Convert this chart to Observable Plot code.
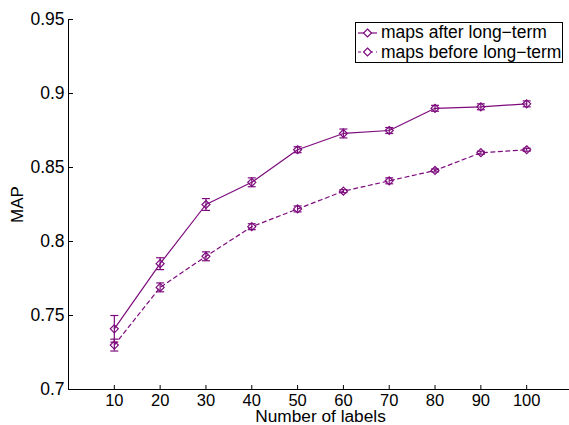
<!DOCTYPE html>
<html>
<head>
<meta charset="utf-8">
<script src="https://cdn.jsdelivr.net/npm/d3@7"></script>
<script src="https://cdn.jsdelivr.net/npm/@observablehq/plot@0.6"></script>
<style>
  html, body { margin: 0; padding: 0; background: #fff; overflow: hidden; }
  #wrap { position: relative; width: 569px; height: 425px; font-family: "Liberation Sans", Arial, sans-serif; }
  #legend { position: absolute; left: 355px; top: 22px; width: 206px; height: 39px; border: 1px solid #000; background: #fff; font-size: 17.5px; color: #000; white-space: nowrap; overflow: hidden; }
  .row { display: flex; align-items: center; height: 19.5px; line-height: 19px; white-space: nowrap; }
  .row svg { margin-left: 1px; margin-right: 3px; flex: none; }
</style>
</head>
<body>
<div id="wrap"></div>
<script>
const labels = [10, 20, 30, 40, 50, 60, 70, 80, 90, 100];
const after = [0.741, 0.785, 0.825, 0.840, 0.862, 0.873, 0.875, 0.890, 0.891, 0.893];
const afterErr = [0.009, 0.004, 0.004, 0.003, 0.002, 0.003, 0.002, 0.002, 0.002, 0.002];
const before = [0.730, 0.769, 0.790, 0.810, 0.822, 0.834, 0.841, 0.848, 0.860, 0.862];
const beforeErr = [0.004, 0.003, 0.003, 0.002, 0.002, 0.001, 0.002, 0.001, 0.001, 0.001];
const yTicks = [0.7, 0.75, 0.8, 0.85, 0.9, 0.95];
const seriesNames = ["maps after long\u2212term", "maps before long\u2212term"];

const color = "#7d0b7d";
const rows = [];
labels.forEach((x, i) => {
  rows.push({series: seriesNames[0], x, y: after[i], e: afterErr[i]});
  rows.push({series: seriesNames[1], x, y: before[i], e: beforeErr[i]});
});
const aRows = rows.filter(d => d.series === seriesNames[0]);
const bRows = rows.filter(d => d.series === seriesNames[1]);

const capSymbol = { draw(ctx, size) { const r = 4; ctx.moveTo(-r, 0); ctx.lineTo(r, 0); } };
const diamond = { draw(ctx, size) { const r = 4; ctx.moveTo(0, -r); ctx.lineTo(r, 0); ctx.lineTo(0, r); ctx.lineTo(-r, 0); ctx.closePath(); } };

const plot = Plot.plot({
  width: 569,
  height: 425,
  marginLeft: 68,
  marginRight: -3,
  marginTop: 19,
  marginBottom: 36,
  style: { fontFamily: "Liberation Sans, Arial, sans-serif", fontSize: "16px", color: "#000", background: "#fff" },
  x: { domain: [0, 110], ticks: labels },
  y: { domain: [0.7, 0.95], ticks: yTicks },
  marks: [
    Plot.axisY({ticks: yTicks, tickSize: -5, tickPadding: 9, tickFormat: d => String(d), fontSize: 17.5, label: null}),
    Plot.axisY({ticks: [], tickSize: 0, label: "MAP", labelAnchor: "center", labelOffset: 58, labelArrow: "none", fontSize: 17}),
    Plot.axisX({ticks: labels, tickSize: -4, tickPadding: 9, label: null, fontSize: 16.5}),
    Plot.axisX({ticks: [], tickSize: 0, label: "Number of labels", labelAnchor: "center", labelOffset: 32, labelArrow: "none", fontSize: 17.3}),
    Plot.ruleY([0.7], {stroke: "#000"}),
    Plot.ruleX([0], {stroke: "#000"}),
    Plot.line(aRows, {x: "x", y: "y", stroke: color, strokeWidth: 1.2}),
    Plot.line(bRows, {x: "x", y: "y", stroke: color, strokeWidth: 1.2, strokeDasharray: "4,3.5"}),
    Plot.ruleX(rows, {x: "x", y1: d => d.y - d.e, y2: d => d.y + d.e, stroke: color, strokeWidth: 1.2}),
    Plot.dot(rows, {x: "x", y: d => d.y - d.e, symbol: capSymbol, stroke: color, strokeWidth: 1.2}),
    Plot.dot(rows, {x: "x", y: d => d.y + d.e, symbol: capSymbol, stroke: color, strokeWidth: 1.2}),
    Plot.dot(rows, {x: "x", y: "y", symbol: diamond, stroke: color, strokeWidth: 1.2, fill: "none"})
  ]
});

const wrap = document.getElementById("wrap");
wrap.appendChild(plot);

const legend = document.createElement("div");
legend.id = "legend";
seriesNames.forEach((name, i) => {
  const row = document.createElement("div");
  row.className = "row";
  const dash = i === 1 ? ' stroke-dasharray="3,3"' : '';
  row.innerHTML = `<svg width="21" height="12"><line x1="1" y1="6" x2="20" y2="6" stroke="${color}" stroke-width="1.2"${dash}/><path d="M10.5,2L14.5,6L10.5,10L6.5,6Z" fill="#fff" stroke="${color}" stroke-width="1.2"/></svg><span>${name}</span>`;
  legend.appendChild(row);
});
wrap.appendChild(legend);
</script>
</body>
</html>
